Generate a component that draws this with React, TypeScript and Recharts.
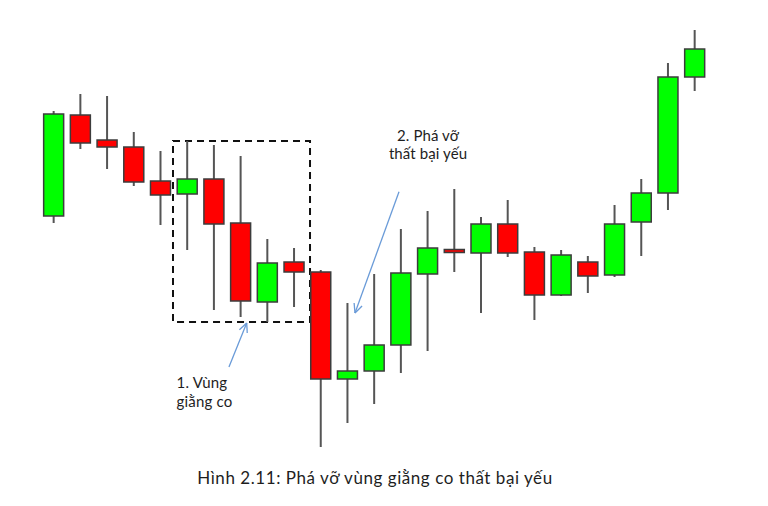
import React from 'react';
import { ComposedChart, Bar, XAxis, YAxis, ReferenceArea, ReferenceLine } from 'recharts';

const candleIndex = [1, 2, 3, 4, 5, 6, 7, 8, 9, 10, 11, 12, 13, 14, 15, 16, 17, 18, 19, 20, 21, 22, 23, 24, 25];
const opens = [264, 365, 340, 333, 299, 286, 301, 257, 178, 218, 208, 101, 109, 135, 206, 230.5, 227, 256, 228, 185, 218, 205, 258, 287, 403];
const closes = [366, 337, 333, 298, 285, 301, 256, 179, 217, 208, 101, 109, 135, 207, 232, 227.5, 256, 227, 185, 225, 204, 256, 287, 403, 431];
const highs = [369, 386, 384, 348, 329, 339, 335, 324, 241, 232, 210, 177, 206, 251, 269, 291, 263, 280, 233, 230, 224, 275, 301, 417, 450];
const lows = [257, 331, 311, 294, 255, 230, 170, 163, 158, 173, 33, 57, 76, 107, 129, 208, 167, 223, 160, 184, 187, 203, 224, 270, 389];

// annotation geometry in data units (x = candle index, y = price)
const rangeBox = { x1: 5.455, x2: 10.585, y1: 158, y2: 339 };
const arrow1 = { from: { x: 7.55, y: 113 }, to: { x: 8.215, y: 157 } };
const arrow2 = { from: { x: 13.917, y: 288.3 }, to: { x: 12.269, y: 167 } };

const CHART_W = 760;
const CHART_H = 498;
const MARGIN = { top: 0, right: 6.2, bottom: 18, left: 19.3 };
const X_DOMAIN: [number, number] = [0, 27.5];
const Y_DOMAIN: [number, number] = [-8, 472];
const PX_PER_X = (CHART_W - MARGIN.left - MARGIN.right) / (X_DOMAIN[1] - X_DOMAIN[0]);
const PX_PER_Y = (CHART_H - MARGIN.top - MARGIN.bottom) / (Y_DOMAIN[1] - Y_DOMAIN[0]);

const data = candleIndex.map((idx, i) => ({
  idx,
  open: opens[i],
  close: closes[i],
  high: highs[i],
  low: lows[i],
  range: [lows[i], highs[i]],
}));

function barbs(a: { from: { x: number; y: number }; to: { x: number; y: number } }) {
  const dx = (a.to.x - a.from.x) * PX_PER_X;
  const dy = -(a.to.y - a.from.y) * PX_PER_Y;
  const len = Math.hypot(dx, dy);
  const ux = dx / len;
  const uy = dy / len;
  const L = 10;
  const ang = (25 * Math.PI) / 180;
  const res: { x: number; y: number }[] = [];
  [ang, -ang].forEach((t) => {
    const rx = ux * Math.cos(t) - uy * Math.sin(t);
    const ry = ux * Math.sin(t) + uy * Math.cos(t);
    res.push({ x: a.to.x - (rx * L) / PX_PER_X, y: a.to.y + (ry * L) / PX_PER_Y });
  });
  return res;
}

const Candle = (props: any) => {
  const { x, y, width, height, payload } = props;
  if (!payload) return null;
  const { open, close, high, low } = payload;
  const top = Math.min(y, y + height);
  const h = Math.abs(height);
  const ppu = h / (high - low);
  const cx = x + width / 2;
  const bodyTop = top + (high - Math.max(open, close)) * ppu;
  const bodyH = Math.max(Math.abs(open - close) * ppu, 2);
  const up = close > open;
  return (
    <g>
      <line x1={cx} x2={cx} y1={top} y2={top + h} stroke="#555555" strokeWidth={2} />
      <rect x={x} y={bodyTop} width={width} height={bodyH} fill={up ? '#00FF00' : '#FF0000'} stroke="#3c3c3c" strokeWidth={1.5} />
    </g>
  );
};

const arrowColor = '#6a9bd8';

export default function App() {
  const arrows = [arrow1, arrow2];
  return (
    <div style={{ position: 'relative', width: CHART_W, height: CHART_H, fontFamily: 'Lato, sans-serif', color: '#1e1e1e' }}>
      <ComposedChart width={CHART_W} height={CHART_H} data={data} margin={MARGIN}>
        <XAxis dataKey="idx" type="number" domain={X_DOMAIN} allowDataOverflow hide />
        <YAxis type="number" domain={Y_DOMAIN} allowDataOverflow hide />
        <Bar dataKey="range" barSize={20} shape={Candle} isAnimationActive={false} />
        <ReferenceArea
          x1={rangeBox.x1}
          x2={rangeBox.x2}
          y1={rangeBox.y1}
          y2={rangeBox.y2}
          fill="none"
          fillOpacity={0}
          stroke="#111"
          strokeWidth={2}
          strokeDasharray="7 5"
        />
        {arrows.map((a, i) => (
          <ReferenceLine key={'a' + i} segment={[a.from, a.to]} stroke={arrowColor} strokeWidth={1.3} />
        ))}
        {arrows.flatMap((a, i) =>
          barbs(a).map((b, j) => (
            <ReferenceLine key={'b' + i + j} segment={[a.to, b]} stroke={arrowColor} strokeWidth={1.3} />
          ))
        )}
      </ComposedChart>
      <div style={{ position: 'absolute', left: 168.5, top: 364.7, fontSize: 15, lineHeight: '19px', letterSpacing: 0.2, whiteSpace: 'nowrap' }}>
        1. Vùng
        <br />
        giằng co
      </div>
      <div style={{ position: 'absolute', left: 370, width: 100, top: 117.7, fontSize: 15, lineHeight: '18.5px', letterSpacing: 0.1, textAlign: 'center', whiteSpace: 'nowrap' }}>
        2. Phá vỡ
        <br />
        thất bại yếu
      </div>
      <div style={{ position: 'absolute', left: 0, width: 734, top: 460.4, fontSize: 17, lineHeight: '20px', letterSpacing: 0.55, textAlign: 'center', whiteSpace: 'nowrap' }}>
        Hình 2.11: Phá vỡ vùng giằng co thất bại yếu
      </div>
    </div>
  );
}
